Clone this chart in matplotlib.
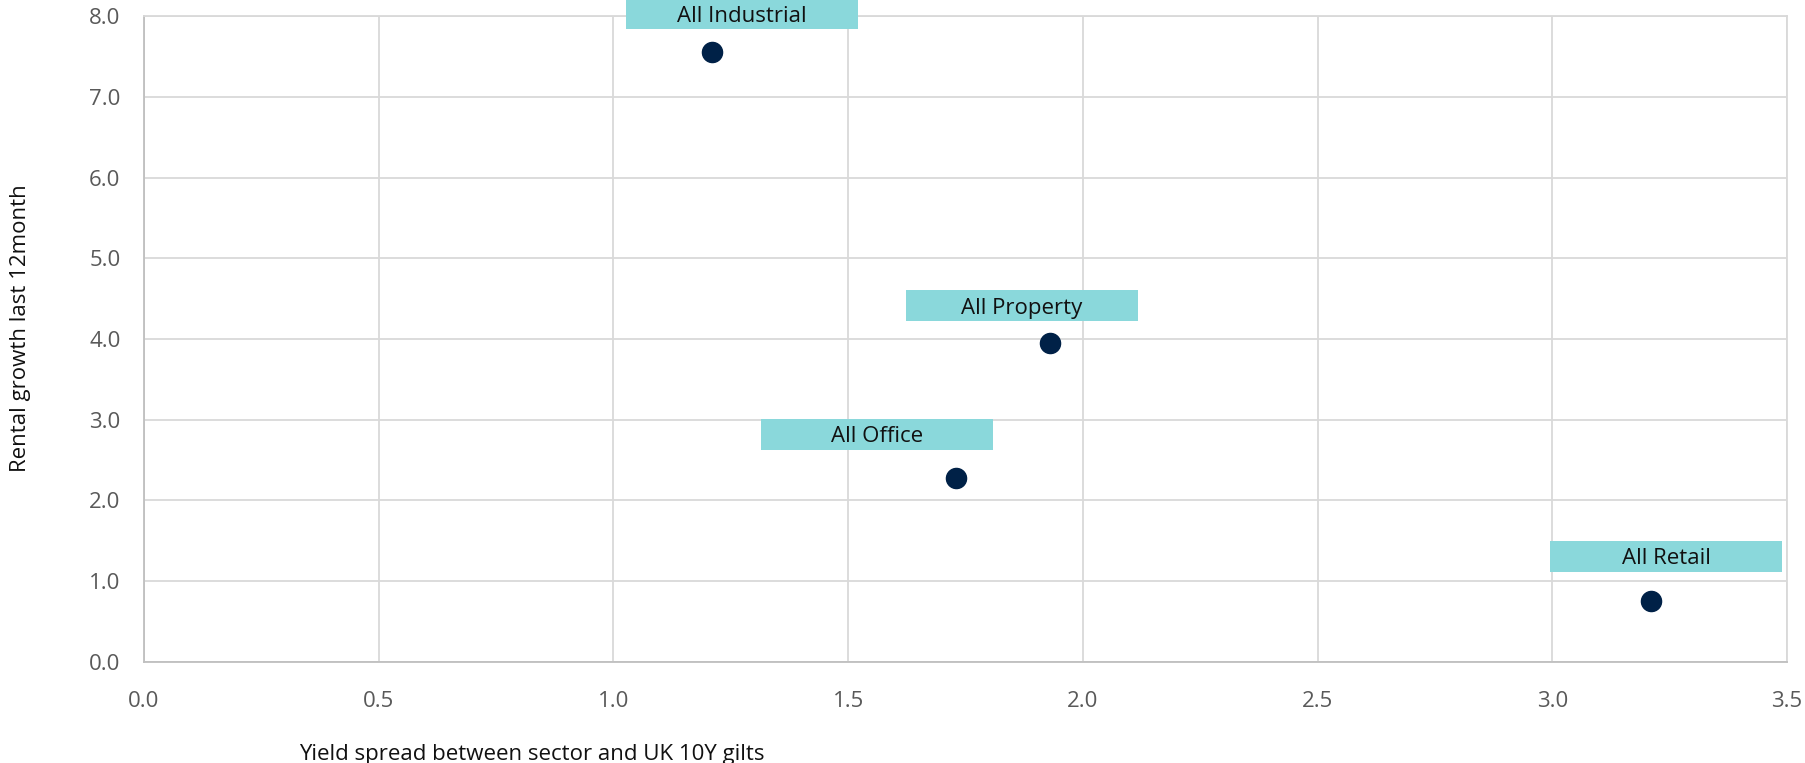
import matplotlib.pyplot as plt
from matplotlib.patches import Rectangle

# Sector data
sectors = ["All Industrial", "All Property", "All Office", "All Retail"]
yield_spread = [1.21, 1.93, 1.73, 3.21]
rental_growth = [7.56, 3.95, 2.28, 0.76]

# label box offsets from each point (data units)
label_dx = [0.064, -0.06, -0.168, 0.033]
label_dy = [0.47, 0.46, 0.54, 0.55]

x_ticks = [0.0, 0.5, 1.0, 1.5, 2.0, 2.5, 3.0, 3.5]
y_ticks = [0.0, 1.0, 2.0, 3.0, 4.0, 5.0, 6.0, 7.0, 8.0]

plt.rcParams["font.family"] = ["Open Sans", "DejaVu Sans"]

fig = plt.figure(figsize=(18.05, 7.63), dpi=100)
ax = fig.add_axes([0.0798, 0.1324, 0.9102, 0.8466])

ax.set_xlim(0, 3.5)
ax.set_ylim(0, 8)
ax.set_xticks(x_ticks)
ax.set_yticks(y_ticks)
ax.set_xticklabels([f"{v:.1f}" for v in x_ticks])
ax.set_yticklabels([f"{v:.1f}" for v in y_ticks])
ax.tick_params(length=0, labelsize=16, labelcolor="#595959")
ax.tick_params(axis="x", pad=21)
ax.tick_params(axis="y", pad=17)

ax.grid(True, color="#d9d9d9", linewidth=1.3)
ax.set_axisbelow(True)
for side, sp in ax.spines.items():
    sp.set_color("#d9d9d9")
    sp.set_linewidth(1.3)
ax.spines["left"].set_color("#bfbfbf")
ax.spines["bottom"].set_color("#bfbfbf")

ax.scatter(yield_spread, rental_growth, s=210, color="#002147", zorder=3)

box_w, box_h = 0.494, 0.384
for name, x, y, dx, dy in zip(sectors, yield_spread, rental_growth, label_dx, label_dy):
    cx, cy = x + dx, y + dy
    ax.add_patch(Rectangle((cx - box_w / 2, cy - box_h / 2), box_w, box_h,
                           facecolor="#8ad8db", edgecolor="none", zorder=4, clip_on=False))
    ax.text(cx, cy - 0.03, name, ha="center", va="center", fontsize=16, color="#111111",
            zorder=5, clip_on=False)

fig.text(0.1657, 0.011, "Yield spread between sector and UK 10Y gilts", fontsize=16,
         color="#111111", ha="left", va="center")
fig.text(0.0115, 0.57, "Rental growth last 12month", fontsize=16, rotation=90,
         color="#111111", ha="center", va="center")

fig.savefig("out.png", dpi=100)
